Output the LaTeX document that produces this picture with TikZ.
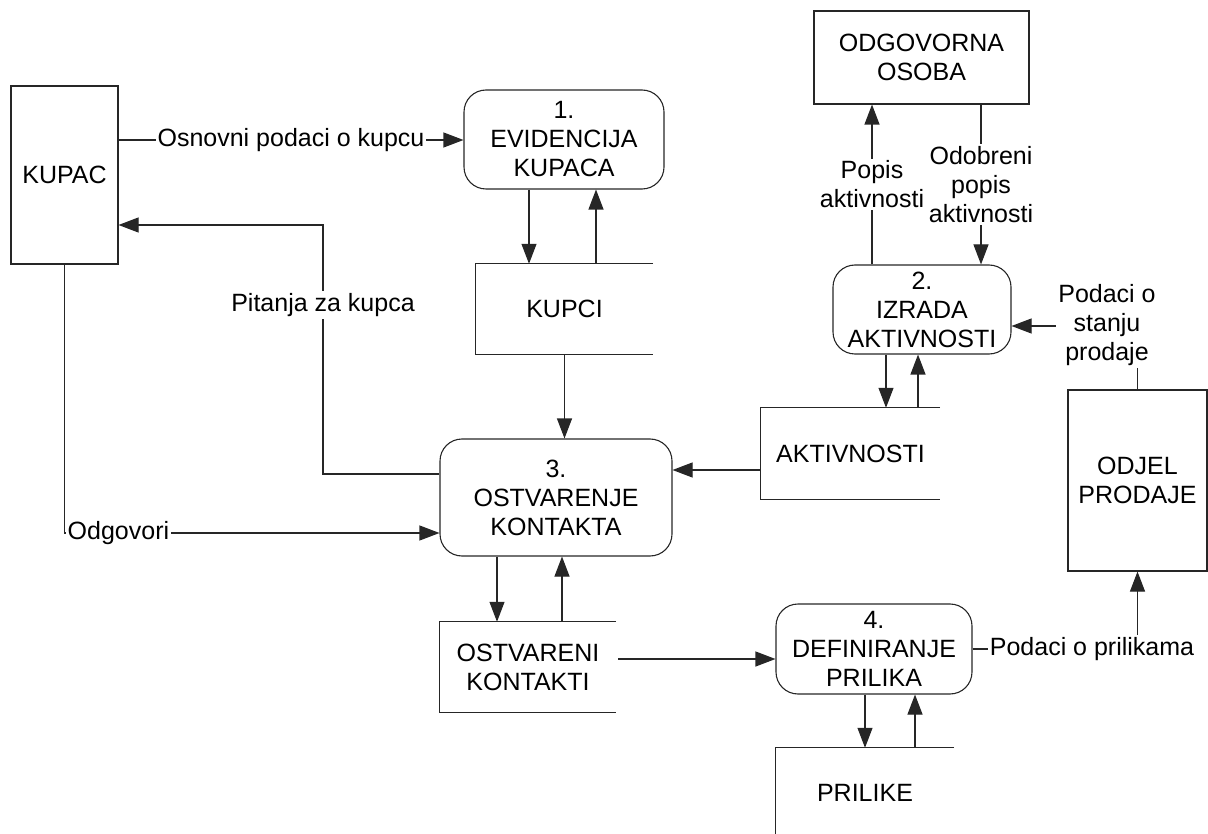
\documentclass[tikz,border=0pt]{standalone}
\usepackage{fontspec}
\setmainfont{Liberation Sans}
\usetikzlibrary{arrows.meta,calc}
\begin{document}
\begin{tikzpicture}[x=1pt,y=-1pt,
  every node/.style={font=\fontsize{25}{29}\selectfont, align=center, inner sep=0pt},
  ln/.style={line width=1.1pt, draw=black!85},
  arr/.style={ln, -{Triangle[length=20pt,width=15pt]}},
  proc/.style={ln, rounded corners=22pt},
  ext/.style={ln},
  store/.style={draw=none},
  lab/.style={fill=white, inner sep=2pt}]
\clip (0,0) rectangle (1208,834);
% external entities
\node[ext, minimum width=107pt, minimum height=178pt] (kupac) at (64.5,175) {KUPAC};
\node[ext, minimum width=215pt, minimum height=93pt] (odg) at (921.5,57.5) {ODGOVORNA\\OSOBA};
\node[ext, minimum width=139pt, minimum height=181pt] (odjel) at (1137.5,480.5) {ODJEL\\PRODAJE};
% processes
\node[proc, minimum width=200pt, minimum height=99pt] (p1) at (564,139.5) {1.\\EVIDENCIJA\\KUPACA};
\node[proc, minimum width=178pt, minimum height=89pt] (p2) at (922,309.5) {2.\\IZRADA\\AKTIVNOSTI};
\node[proc, minimum width=232pt, minimum height=117pt] (p3) at (556,497.5) {3.\\OSTVARENJE\\KONTAKTA};
\node[proc, minimum width=196pt, minimum height=90pt] (p4) at (874,649) {4.\\DEFINIRANJE\\PRILIKA};
% data stores
\node[store, minimum width=177pt, minimum height=90pt] (kupci) at (564.5,309) {KUPCI};
\node[store, minimum width=179pt, minimum height=91pt] (akt) at (850.5,453.5) {AKTIVNOSTI};
\node[store, minimum width=176pt, minimum height=90pt] (ost) at (528,667) {OSTVARENI\\KONTAKTI};
\node[store, minimum width=178pt, minimum height=90pt] (pril) at (865,793) {PRILIKE};
\foreach \s in {kupci,akt,ost,pril}
  \draw[ln] (\s.north east) -- (\s.north west) -- (\s.south west) -- (\s.south east);
% flows
\draw[arr] ([yshift=35pt]kupac.east) -- ([yshift=35pt]kupac.east -| p1.west)
  node[midway, lab] (losn) {Osnovni podaci o kupcu};
\coordinate (pq) at (323,225);
\draw[arr] ([yshift=23.5pt]p3.west) -| (pq) -- (pq -| kupac.east);
\node[lab] (lpit) at (323,305) {Pitanja za kupca};
\draw[arr] (kupac.south) |- ([yshift=-35.5pt]p3.west);
\node[lab, inner sep=1.5pt, anchor=west] (lodg) at ($(kupac.south |- p3.west)+(1.5,35.5)$) {Odgovori};
\draw[arr] ([xshift=-35pt]p1.south) -- ([xshift=-35pt]p1.south |- kupci.north);
\draw[arr] ([xshift=32pt]p1.south |- kupci.north) -- ([xshift=32pt]p1.south);
\draw[arr] (kupci.south) -- (kupci.south |- p3.north);
\draw[arr] ([xshift=-50pt]p2.north) -- ([xshift=-50pt]p2.north |- odg.south)
  node[midway, lab] (lpop) {Popis\\aktivnosti};
\draw[arr] ([xshift=59.5pt]odg.south) -- ([xshift=59.5pt]odg.south |- p2.north)
  node[midway, lab] (lodo) {Odobreni\\popis\\aktivnosti};
\draw[arr] (odjel.north) |- ([yshift=-16.5pt]p2.east);
\node[lab] (lsta) at (1107,325) {Podaci o\\stanju\\prodaje};
\draw[arr] ([xshift=-36pt]p2.south) -- ([xshift=-36pt]p2.south |- akt.north);
\draw[arr] ([xshift=-4pt]p2.south |- akt.north) -- ([xshift=-4pt]p2.south);
\draw[arr] ([yshift=-16.5pt]akt.west) -- ([yshift=-16.5pt]akt.west -| p3.east);
\draw[arr] ([xshift=-59pt]p3.south) -- ([xshift=-59pt]p3.south |- ost.north);
\draw[arr] ([xshift=6pt]p3.south |- ost.north) -- ([xshift=6pt]p3.south);
\draw[arr] ([xshift=2pt,yshift=8pt]ost.east) -- ([yshift=8pt]ost.east -| p4.west);
\draw[arr] ([xshift=-9pt]p4.south) -- ([xshift=-9pt]p4.south |- pril.north);
\draw[arr] ([xshift=41pt]p4.south |- pril.north) -- ([xshift=41pt]p4.south);
\draw[arr] (p4.east) -| (odjel.south);
\node[lab] (lpri) at (1092,649) {Podaci o prilikama};
\end{tikzpicture}
\end{document}
